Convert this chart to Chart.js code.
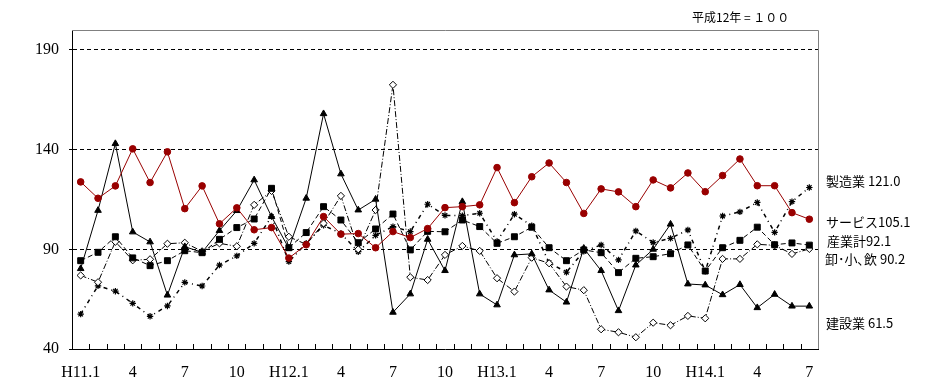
<!DOCTYPE html>
<html><head><meta charset="utf-8">
<script src="https://cdn.jsdelivr.net/npm/chart.js@4.4.1/dist/chart.umd.min.js"></script>
<style>
html,body{margin:0;padding:0;background:#fff;}
#wrap{position:relative;width:926px;height:388px;}
.lbl{position:absolute;font-family:"Noto Sans CJK JP","Noto Sans",sans-serif;font-size:13px;color:#000;white-space:nowrap;line-height:15px;}
.top{font-size:12px;}
</style></head>
<body>
<div id="wrap">
<canvas id="c" width="926" height="388"></canvas>
<div class="lbl top" style="left:692px;top:9px;">平成12年 = １００</div>
<div class="lbl" style="left:826px;top:173px;">製造業 121.0</div>
<div class="lbl" style="left:826px;top:214px;">サービス105.1</div>
<div class="lbl" style="left:827px;top:233px;">産業計92.1</div>
<div class="lbl" style="left:825px;top:251px;">卸･小､飲 90.2</div>
<div class="lbl" style="left:826px;top:315px;">建設業 61.5</div>
</div>
<script>
const categories = ['H11.1','H11.2','H11.3','H11.4','H11.5','H11.6','H11.7','H11.8','H11.9','H11.10','H11.11','H11.12',
  'H12.1','H12.2','H12.3','H12.4','H12.5','H12.6','H12.7','H12.8','H12.9','H12.10','H12.11','H12.12',
  'H13.1','H13.2','H13.3','H13.4','H13.5','H13.6','H13.7','H13.8','H13.9','H13.10','H13.11','H13.12',
  'H14.1','H14.2','H14.3','H14.4','H14.5','H14.6','H14.7'];
const tickLabels = ['H11.1','','','4','','','7','','','10','','',
  'H12.1','','','4','','','7','','','10','','',
  'H13.1','','','4','','','7','','','10','','',
  'H14.1','','','4','','','7'];
const yTickValues = [40, 90, 140, 190];

const service = [123.8,115.6,121.8,140.4,123.5,138.9,110.4,121.8,102.8,110.8,99.8,100.9,
  85.6,92.3,106.4,97.6,97.9,90.8,98.9,95.9,100.4,110.9,111.4,112.3,
  131.0,113.4,126.4,133.3,123.5,108.0,120.3,118.8,111.4,124.8,120.8,128.3,
  118.9,127.0,135.3,121.9,121.9,108.4,105.1];
const manufacturing = [57.5,71.7,69.0,62.9,56.4,61.6,73.4,71.6,82.1,86.7,93.0,106.4,
  83.8,93.0,102.0,98.0,88.8,97.0,101.4,98.9,112.6,107.0,106.9,108.1,
  94.0,107.6,101.9,83.3,78.5,89.0,92.2,84.7,99.2,93.4,95.5,99.7,
  79.0,106.7,108.8,113.5,98.5,113.9,121.0];
const allIndustry = [84.3,88.5,96.3,85.7,81.8,84.3,89.3,88.3,95.0,100.9,105.2,120.6,
  90.8,98.4,111.4,104.7,93.3,100.2,107.7,89.7,99.0,98.8,104.7,101.4,
  93.0,96.3,101.1,90.8,84.3,89.7,88.3,78.3,85.5,86.3,87.8,92.2,
  79.1,90.8,94.5,101.1,92.3,93.2,92.1];
const retail = [76.9,73.5,93.8,84.5,85.0,92.8,93.3,89.0,93.0,91.5,112.3,119.3,
  96.3,92.5,103.0,116.8,90.0,109.7,172.5,76.0,74.6,87.2,91.7,89.2,
  75.5,68.8,85.8,83.0,71.3,69.5,49.9,48.4,45.9,53.2,51.9,56.6,
  55.4,85.2,85.2,92.5,92.0,87.7,90.2];
const construction = [80.3,109.5,143.0,98.7,93.7,67.0,91.3,88.5,99.4,109.4,124.8,106.4,
  90.5,115.6,158.0,127.8,109.7,115.1,58.4,67.6,95.0,79.3,113.9,67.6,
  62.1,87.2,87.7,69.6,63.5,90.5,79.3,59.2,82.1,90.0,102.6,72.6,
  72.1,67.2,72.3,60.7,67.4,61.5,61.5];

const framePlugin = {
  id: 'frame',
  beforeDatasetsDraw(chart) {
    const {ctx, chartArea: a, scales: {x}} = chart;
    ctx.save();
    ctx.lineWidth = 1;
    ctx.strokeStyle = '#808080';
    ctx.beginPath();
    ctx.moveTo(a.left, a.top + 0.5);
    ctx.lineTo(a.right + 0.5, a.top + 0.5);
    ctx.lineTo(a.right + 0.5, a.bottom);
    ctx.stroke();
    ctx.strokeStyle = '#000';
    ctx.beginPath();
    for (let i = 1; i < categories.length; i++) {
      const px = Math.round((x.getPixelForValue(i - 1) + x.getPixelForValue(i)) / 2) + 0.5;
      ctx.moveTo(px, a.bottom);
      ctx.lineTo(px, a.bottom - 5);
    }
    ctx.stroke();
    ctx.restore();
  }
};

const red = '#990000';
new Chart(document.getElementById('c'), {
  type: 'line',
  data: {
    labels: categories,
    datasets: [
      {label: 'サービス', data: service, borderColor: red, backgroundColor: red, borderWidth: 1,
       pointStyle: 'circle', pointRadius: 3.3, pointBorderWidth: 1, pointBackgroundColor: red, pointBorderColor: red},
      {label: '建設業', data: construction, borderColor: '#000', backgroundColor: '#000', borderWidth: 1,
       pointStyle: 'triangle', pointRadius: 3.8, pointBackgroundColor: '#000', pointBorderColor: '#000'},
      {label: '産業計', data: allIndustry, borderColor: '#000', backgroundColor: '#000', borderWidth: 1, borderDash: [5, 3],
       pointStyle: 'rect', pointRadius: 4.2, pointBackgroundColor: '#000', pointBorderColor: '#000'},
      {label: '卸・小、飲', data: retail, borderColor: '#000', backgroundColor: '#fff', borderWidth: 1, borderDash: [6, 2, 1, 2],
       pointStyle: 'rectRot', pointRadius: 3.6, pointBackgroundColor: '#fff', pointBorderColor: '#000', pointBorderWidth: 1},
      {label: '製造業', data: manufacturing, borderColor: '#000', backgroundColor: '#000', borderWidth: 1.5, borderDash: [4, 4, 1, 4],
       pointStyle: 'star', pointRadius: 3.2, pointBorderColor: '#000', pointBorderWidth: 1.2}
    ]
  },
  options: {
    responsive: false,
    animation: false,
    devicePixelRatio: 1,
    layout: {padding: {top: 30, right: 108, left: 0, bottom: 0}},
    plugins: {legend: {display: false}, tooltip: {enabled: false}},
    elements: {line: {tension: 0}},
    scales: {
      x: {
        type: 'category',
        offset: true,
        grid: {display: false},
        border: {display: true, color: '#000', width: 1},
        ticks: {
          autoSkip: false, maxRotation: 0, minRotation: 0, padding: 6, color: '#000',
          font: {family: '"Liberation Serif", "DejaVu Serif", serif', size: 16},
          callback: (v, i) => tickLabels[i]
        },
        afterFit: s => { s.height = 39; }
      },
      y: {
        min: 40, max: 200,
        afterBuildTicks: s => { s.ticks = yTickValues.map(v => ({value: v})); },
        grid: {
          color: c => (c.tick && c.tick.value === 40) ? 'rgba(0,0,0,0)' : '#000',
          lineWidth: 1, tickLength: 3, tickColor: '#000', tickBorderDash: []
        },
        border: {display: true, color: '#000', width: 1, dash: [4, 3]},
        ticks: {
          padding: 10, color: '#000',
          font: {family: '"Liberation Serif", "DejaVu Serif", serif', size: 16}
        },
        afterFit: s => { s.width = 72; }
      }
    }
  },
  plugins: [framePlugin]
});
</script>
</body></html>
